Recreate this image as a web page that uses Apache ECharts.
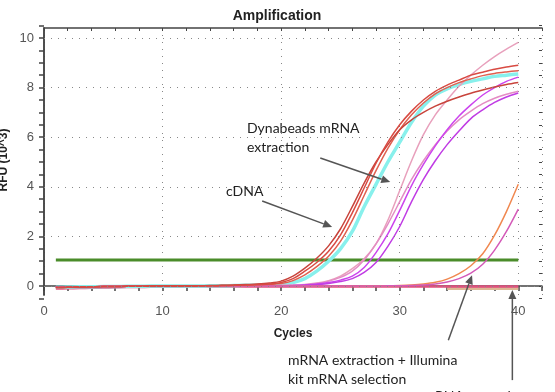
<!DOCTYPE html>
<html>
<head>
<meta charset="utf-8">
<script src="https://cdn.jsdelivr.net/npm/echarts@6/dist/echarts.min.js"></script>
<style>
  html, body { margin: 0; padding: 0; background: #fff; }
  #chart { width: 555px; height: 392px; }
</style>
</head>
<body>
<div id="chart"></div>
<script>
// Data
const cycles = [1,2,3,4,5,6,7,8,9,10,11,12,13,14,15,16,17,18,19,20,
                21,22,23,24,25,26,27,28,29,30,31,32,33,34,35,36,37,38,39,40];

const red1 = [-0.06,-0.05,-0.04,-0.03,-0.02,-0.02,-0.01,-0.01,0,0,0,0,0.01,0.01,0.02,0.03,0.04,0.06,0.08,0.14,
              0.3,0.6,0.95,1.4,2.05,2.95,3.95,4.95,5.8,6.5,7.05,7.5,7.85,8.1,8.3,8.5,8.62,8.74,8.83,8.9];
const red2 = [-0.06,-0.05,-0.04,-0.03,-0.02,-0.02,-0.01,-0.01,0,0,0,0,0.01,0.02,0.03,0.04,0.06,0.08,0.12,0.2,
              0.4,0.72,1.12,1.62,2.3,3.2,4.15,5.0,5.7,6.3,6.7,7.0,7.25,7.45,7.62,7.77,7.9,8.02,8.12,8.2];
const red3 = [-0.06,-0.05,-0.04,-0.03,-0.02,-0.02,-0.01,-0.01,0,0,0,0,0.01,0.01,0.02,0.03,0.04,0.05,0.07,0.1,
              0.22,0.45,0.78,1.2,1.8,2.65,3.65,4.65,5.55,6.3,6.9,7.38,7.75,8.0,8.2,8.35,8.48,8.57,8.63,8.68];
const cyan = [-0.05,-0.04,-0.03,-0.03,-0.02,-0.02,-0.01,-0.01,0,0,0,0,0,0.01,0.01,0.02,0.03,0.03,0.04,0.06,
              0.14,0.3,0.6,1.0,1.5,2.2,3.2,4.1,5.0,5.8,6.6,7.25,7.7,7.95,8.12,8.25,8.35,8.45,8.5,8.55];
const pink1 = [-0.05,-0.04,-0.03,-0.03,-0.02,-0.02,-0.01,-0.01,0,0,0,0,0,0,0,0.01,0.01,0.02,0.02,0.03,
               0.04,0.06,0.12,0.22,0.4,0.7,1.1,1.7,2.65,3.85,5.05,6.1,6.9,7.5,8.05,8.5,8.9,9.25,9.55,9.82];
const pink2 = [-0.05,-0.04,-0.03,-0.03,-0.02,-0.02,-0.01,-0.01,0,0,0,0,0,0,0,0,0.01,0.01,0.01,0.02,
               0.03,0.05,0.1,0.2,0.35,0.6,1.05,1.7,2.5,3.4,4.3,5.05,5.7,6.25,6.7,7.05,7.35,7.57,7.73,7.85];
const magenta1 = [-0.05,-0.04,-0.03,-0.03,-0.02,-0.02,-0.01,-0.01,0,0,0,0,0,0,0,0,0,0.01,0.01,0.01,
                  0.02,0.04,0.08,0.14,0.24,0.4,0.75,1.35,2.1,3.05,4.05,4.9,5.65,6.3,6.85,7.3,7.7,8.0,8.25,8.42];
const magenta2 = [-0.05,-0.04,-0.03,-0.03,-0.02,-0.02,-0.01,-0.01,0,0,0,0,0,0,0,0,0,0,0.01,0.01,
                  0.01,0.03,0.06,0.1,0.18,0.3,0.55,0.95,1.6,2.4,3.4,4.3,5.05,5.7,6.25,6.75,7.1,7.4,7.62,7.78];
const orange = [-0.06,-0.05,-0.04,-0.03,-0.02,-0.02,-0.01,-0.01,0,0,0,0,0,0,0,0,0,0,0,0,
                0,0,0,0,0,0,0.01,0.01,0.01,0.02,0.04,0.08,0.15,0.28,0.5,0.82,1.3,2.05,3.0,4.1];
const latePink = [-0.06,-0.05,-0.04,-0.03,-0.02,-0.02,-0.01,-0.01,0,0,0,0,0,0,0,0,0,0,0,0,
                  0,0,0,0,0,0,0,0,0.01,0.01,0.02,0.04,0.08,0.16,0.3,0.52,0.88,1.45,2.2,3.1];
const negative = [-0.1,-0.09,-0.08,-0.07,-0.06,-0.05,-0.04,-0.04,-0.03,-0.03,-0.03,-0.02,-0.02,-0.02,-0.02,-0.02,-0.02,-0.02,-0.02,-0.02,
                  -0.02,-0.02,-0.02,-0.02,-0.02,-0.02,-0.02,-0.02,-0.02,-0.02,-0.02,-0.02,-0.02,-0.02,-0.02,-0.02,-0.02,-0.02,-0.02,-0.02];
const controlCycles = [34,35,36,37,38,39,40];
const control = [-0.09,-0.09,-0.09,-0.09,-0.09,-0.09,-0.09];
const thresholdCycles = [1, 40];
const threshold = [1.05, 1.05];

// gridline positions
const yGridValues = [0, 2, 4, 6, 8, 10];

// annotation arrows, in data units [cycle, RFU]
const arrows = [
    [[18.4, 3.43], [24.3, 2.38]],
    [[23.3, 5.16], [29.2, 4.19]],
    [[34.1, -2.18], [36.1, 0.44]],
    [[39.5, -3.79], [39.5, -0.16]]
];

const pairs = (xs, ys) => xs.map((x, i) => [x, ys[i]]);

function curve(name, ys, color, width) {
    return {
        name: name,
        type: 'line',
        data: pairs(cycles, ys),
        smooth: 0.3,
        showSymbol: false,
        lineStyle: { color: color, width: width || 1.5 },
        itemStyle: { color: color },
        xAxisIndex: 0,
        yAxisIndex: 0
    };
}

const chart = echarts.init(document.getElementById('chart'), null, { renderer: 'canvas' });

const axisColor = '#444';
const labelStyle = { color: '#555', fontSize: 13, fontFamily: 'Liberation Sans' };
const dotted = { color: '#888', width: 1, type: [1, 6] };
const Y_MIN = -0.36, Y_MAX = 10.4;

// grid 0 holds the data, grid 1 only carries the y ticks / labels (range -0.5..10.5)
const option = {
    animation: false,
    title: {
        text: 'Amplification',
        left: 272, top: 4, textAlign: 'center',
        textStyle: { fontSize: 14, fontWeight: 'bold', color: '#222', fontFamily: 'Liberation Sans' }
    },
    grid: [
        { left: 44, right: 13, top: 28, bottom: 97 },
        { left: 44, right: 13, top: 25.6, bottom: 93.6 }
    ],
    xAxis: [
        {
            type: 'value', min: 0, max: 42, interval: 2, position: 'bottom', gridIndex: 0,
            axisLine: { lineStyle: { color: axisColor, width: 1.5 } },
            axisTick: { length: 5, lineStyle: { color: axisColor, width: 1.5 } },
            axisLabel: Object.assign({}, labelStyle, {
                margin: 10,
                formatter: v => (v % 10 === 0 ? String(v) : '')
            }),
            splitLine: { show: false },
            name: 'Cycles', nameLocation: 'middle', nameGap: 33,
            nameTextStyle: { fontSize: 12, fontWeight: 'bold', color: '#222', fontFamily: 'Liberation Sans' }
        },
        {
            type: 'value', min: 0, max: 42, interval: 10, position: 'bottom', gridIndex: 0,
            axisLine: { show: false }, axisTick: { show: false }, axisLabel: { show: false },
            splitLine: { show: true, lineStyle: dotted }
        },
        {
            type: 'value', min: 0, max: 42, interval: 2, position: 'top', gridIndex: 0,
            axisLine: { lineStyle: { color: axisColor, width: 1.5 } },
            axisTick: { inside: true, length: 3, lineStyle: { color: axisColor } },
            axisLabel: { show: false }, splitLine: { show: false }
        },
        {
            type: 'value', min: 0, max: 42, gridIndex: 1, show: false
        }
    ],
    yAxis: [
        {
            type: 'value', min: Y_MIN, max: Y_MAX, position: 'left', gridIndex: 0,
            axisLine: { show: true, lineStyle: { color: axisColor, width: 1.5 } },
            axisTick: { show: false }, axisLabel: { show: false }, splitLine: { show: false }
        },
        {
            type: 'value', min: Y_MIN, max: Y_MAX, position: 'right', gridIndex: 0,
            axisLine: { show: true, lineStyle: { color: axisColor, width: 1.5 } },
            axisTick: { show: false }, axisLabel: { show: false }, splitLine: { show: false }
        },
        {
            type: 'value', min: -0.5, max: 10.5, interval: 0.5, position: 'left', gridIndex: 1,
            axisLine: { show: false },
            axisTick: { show: true, length: 5, lineStyle: { color: axisColor, width: 1.5 } },
            axisLabel: Object.assign({}, labelStyle, {
                margin: 10,
                formatter: v => {
                    const r = Math.round(v);
                    return (Math.abs(v - r) < 1e-6 && r % 2 === 0) ? String(r) : '';
                }
            }),
            splitLine: { show: false }
        },
        {
            type: 'value', min: -0.5, max: 10.5, interval: 0.5, position: 'right', gridIndex: 1,
            axisLine: { show: false },
            axisTick: { show: true, inside: true, length: 3, lineStyle: { color: axisColor } },
            axisLabel: { show: false }, splitLine: { show: false }
        }
    ],
    graphic: [
        { type: 'text', x: 4, y: 160, rotation: Math.PI / 2,
          style: { text: 'RFU (10^3)', fontSize: 12, fontWeight: 'bold', fill: '#222',
                   fontFamily: 'Liberation Sans', textAlign: 'center', textVerticalAlign: 'middle' } },
        { type: 'text', x: 247, y: 119,
          style: { text: 'Dynabeads mRNA\nextraction', fontSize: 14, lineHeight: 19, fill: '#222',
                   fontFamily: 'Lato' } },
        { type: 'text', x: 226, y: 184,
          style: { text: 'cDNA', fontSize: 14, fill: '#222', fontFamily: 'Lato' } },
        { type: 'text', x: 288, y: 351,
          style: { text: 'mRNA extraction + Illumina\nkit mRNA selection', fontSize: 14, lineHeight: 19,
                   fill: '#222', fontFamily: 'Lato' } },
        { type: 'text', x: 435, y: 389,
          style: { text: 'RNA control', fontSize: 14, fill: '#222', fontFamily: 'Lato' } }
    ],
    series: [
        {
            name: 'control', type: 'line', data: pairs(controlCycles, control),
            showSymbol: false, lineStyle: { color: '#dcb894', width: 3.5 }
        },
        curve('negative', negative, '#e0507e', 2.5),
        {
            name: 'threshold', type: 'line', data: pairs(thresholdCycles, threshold),
            showSymbol: false, lineStyle: { color: '#4a8c2a', width: 3 }, z: 1,
            markLine: {
                silent: true, symbol: ['none', 'none'], label: { show: false },
                lineStyle: dotted,
                data: yGridValues.map(v => ({ yAxis: v }))
            }
        },
        curve('cyan', cyan, '#88f0ec', 3.5),
        curve('pink1', pink1, '#e8a0bc', 1.5),
        curve('pink2', pink2, '#e48cc4', 1.5),
        curve('magenta1', magenta1, '#cc44ee', 1.5),
        curve('magenta2', magenta2, '#c03ce4', 1.5),
        curve('orange', orange, '#f08850', 1.5),
        curve('latePink', latePink, '#d45ab8', 1.5),
        curve('red3', red3, '#e06050', 1.5),
        curve('red2', red2, '#c8443c', 1.5),
        curve('red1', red1, '#d84a42', 1.5)
    ]
};

chart.setOption(option);

// annotation arrows, placed through the data axes
function arrowGraphics() {
    const out = [];
    arrows.forEach(a => {
        const p0 = chart.convertToPixel({ xAxisIndex: 0, yAxisIndex: 0 }, a[0]);
        const p1 = chart.convertToPixel({ xAxisIndex: 0, yAxisIndex: 0 }, a[1]);
        const ang = Math.atan2(p1[1] - p0[1], p1[0] - p0[0]);
        const len = 9, half = 4;
        const bx = p1[0] - len * Math.cos(ang), by = p1[1] - len * Math.sin(ang);
        out.push({
            type: 'line', z: 50,
            shape: { x1: p0[0], y1: p0[1], x2: bx, y2: by },
            style: { stroke: '#555', lineWidth: 1.5 }
        });
        out.push({
            type: 'polygon', z: 50,
            shape: { points: [
                [p1[0], p1[1]],
                [bx + half * Math.sin(ang), by - half * Math.cos(ang)],
                [bx - half * Math.sin(ang), by + half * Math.cos(ang)]
            ] },
            style: { fill: '#555' }
        });
    });
    return out;
}

chart.setOption({ graphic: option.graphic.concat(arrowGraphics()) });
</script>
</body>
</html>
